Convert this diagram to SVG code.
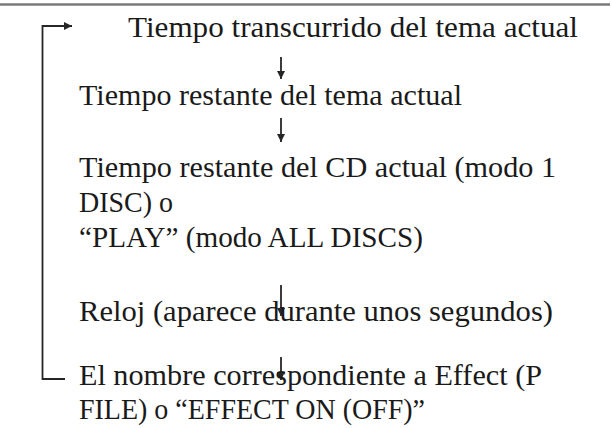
<svg xmlns="http://www.w3.org/2000/svg" width="612" height="428" viewBox="0 0 612 428">
<style>
  .t { font-family: "Liberation Serif", "Times New Roman", serif; font-size: 30px; fill: #1a1a1a; }
  .c { stroke: #262626; stroke-width: 1.8; fill: none; }
  .rule { stroke: #7a7a7a; stroke-width: 2.5; }
</style>
<defs>
  <marker id="ah" viewBox="0 0 10 10" refX="10" refY="5" markerWidth="8" markerHeight="8" markerUnits="userSpaceOnUse" orient="auto">
    <path d="M0,0 L10,5 L0,10 Z" fill="#262626"/>
  </marker>
</defs>
<rect width="612" height="428" fill="#fff"/>
<line class="rule" x1="0" y1="4.5" x2="610" y2="4.5"/>
<g id="connectors">
  <line class="c" x1="281" y1="57" x2="281" y2="79" marker-end="url(#ah)"/>
  <line class="c" x1="281" y1="118" x2="281" y2="142" marker-end="url(#ah)"/>
  <line class="c" x1="281" y1="285" x2="281" y2="316" marker-end="url(#ah)"/>
  <line class="c" x1="281" y1="357" x2="281" y2="380" marker-end="url(#ah)"/>
  <polyline class="c" points="65,379 42.5,379 42.5,26 72,26" marker-end="url(#ah)"/>
</g>
<g id="n1"><text class="t" x="128" y="37" textLength="450" lengthAdjust="spacingAndGlyphs">Tiempo transcurrido del tema actual</text></g>
<g id="n2"><text class="t" x="79" y="105" textLength="383" lengthAdjust="spacingAndGlyphs">Tiempo restante del tema actual</text></g>
<g id="n3">
  <text class="t" x="79" y="177" textLength="477" lengthAdjust="spacingAndGlyphs">Tiempo restante del CD actual (modo 1</text>
  <text class="t" x="79" y="212" textLength="94" lengthAdjust="spacingAndGlyphs">DISC) o</text>
  <text class="t" x="79" y="247" textLength="344" lengthAdjust="spacingAndGlyphs">“PLAY” (modo ALL DISCS)</text>
</g>
<g id="n4"><text class="t" x="79" y="321" textLength="474" lengthAdjust="spacingAndGlyphs">Reloj (aparece durante unos segundos)</text></g>
<g id="n5">
  <text class="t" x="79" y="385" textLength="463" lengthAdjust="spacingAndGlyphs">El nombre correspondiente a Effect (P</text>
  <text class="t" x="79" y="419" textLength="346" lengthAdjust="spacingAndGlyphs">FILE) o “EFFECT ON (OFF)”</text>
</g>
</svg>
